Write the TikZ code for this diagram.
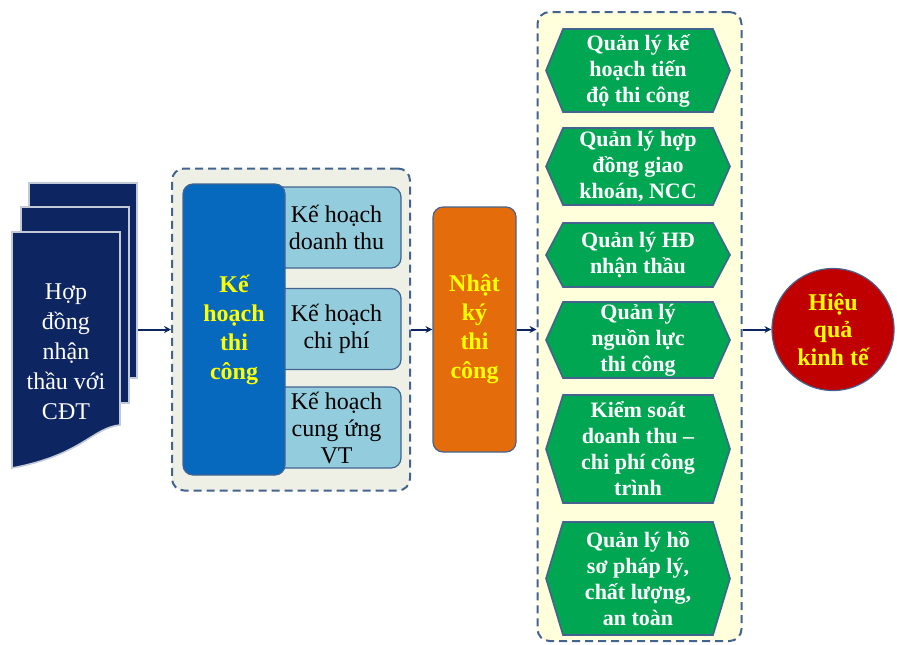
\documentclass[tikz,border=0pt]{standalone}
\usepackage{fontspec}
\setmainfont{Liberation Serif}
\usetikzlibrary{arrows.meta, positioning, calc}
\definecolor{cnavy}{HTML}{0D2561}
\definecolor{cframe}{HTML}{45638F}
\definecolor{cgreybg}{HTML}{EEF0E6}
\definecolor{ccream}{HTML}{FFFFDC}
\definecolor{cblue}{HTML}{0669BE}
\definecolor{clight}{HTML}{93CDDD}
\definecolor{corange}{HTML}{E46C0A}
\definecolor{cgreen}{HTML}{00A651}
\definecolor{cred}{HTML}{C00000}
\definecolor{cyellow}{HTML}{FFFF00}
\tikzset{
  every picture/.style={x=0.5pt, y=-0.5pt, line width=0.6pt},
  paper/.style={fill=cnavy, draw=white!75!cnavy, line width=0.8pt},
  group/.style={draw=cframe, fill=#1, dash pattern=on 4pt off 2.5pt, line width=1pt, rounded corners=6pt},
  group/.default=cgreybg,
  mainbox/.style={draw=cframe, rounded corners=5pt, align=center, inner sep=0pt, text=cyellow, font=\fontsize{12}{14.5}\selectfont\bfseries},
  plan/.style={draw=cframe, fill=clight, rounded corners=5pt, align=center, inner sep=0pt, minimum width=64.5pt, minimum height=40.5pt, font=\fontsize{12}{13.5}\selectfont},
  hexa/.style={draw=cframe, fill=cgreen, line width=0.8pt},
  hextext/.style={align=center, inner sep=0pt, text=white, font=\fontsize{11}{13}\selectfont\bfseries},
  arrow/.style={-{Stealth[length=3.5pt, width=3.5pt]}, draw=cnavy, line width=1pt},
}

\begin{document}
\begin{tikzpicture}
  \useasboundingbox (0,0) rectangle (897,644);
  \foreach \dx/\dy/\h in {17/-49/195, 9/-25/196}
    \draw[paper] (12+\dx,232+\dy) rectangle ++(108,\h);
  \draw[paper] (12,232) -- (120,232) -- (120,425) .. controls (92,428) and (82,455) .. (12,468) -- cycle;
  \node[align=center, text=white, font=\fontsize{12}{15}\selectfont] (doc) at (66,352) {Hợp\\đồng\\nhận\\thầu với\\CĐT};
  \coordinate (docout) at (138,329.5);

  \node[group, minimum width=119pt, minimum height=161pt] (grp1) at (291,329.5) {};
  \node[plan] (p1) at (336.5,227.5) {Kế hoạch\\doanh thu};
  \node[plan] (p2) at (336.5,329) {Kế hoạch\\chi phí};
  \node[plan] (p3) at (336.5,427.5) {Kế hoạch\\cung ứng\\VT};
  \node[mainbox, fill=cblue, minimum width=51pt, minimum height=145.5pt] (khtc) at (234,329.5) {Kế\\hoạch\\thi\\công};

  \node[mainbox, fill=corange, minimum width=41.5pt, minimum height=122.5pt] (nk) at (474.5,329.5) {Nhật\\ký\\thi\\công};

  \node[group=ccream, minimum width=102pt, minimum height=314.5pt] (grp2) at (639.5,326.5) {};
  \foreach \n/\yc/\hh/\t in {q1/70.5/83/{Quản lý kế\\hoạch tiến\\độ thi công},
      q2/166.5/77/{Quản lý hợp\\đồng giao\\khoán, NCC},
      q3/255/64/{Quản lý HĐ\\nhận thầu},
      q4/340/76/{Quản lý\\nguồn lực\\thi công},
      q5/449/108/{Kiểm soát\\doanh thu –\\chi phí công\\trình},
      q6/578.5/113/{Quản lý hồ\\sơ pháp lý,\\chất lượng,\\an toàn}} {
    \draw[hexa] (546,\yc) -- (563,\yc-\hh/2) -- (713,\yc-\hh/2) -- (730,\yc) -- (713,\yc+\hh/2) -- (563,\yc+\hh/2) -- cycle;
    \node[hextext] (\n) at (638,\yc) {\t};
  }

  \node[circle, draw=cframe, fill=cred, minimum size=61pt, inner sep=0pt, align=center, text=cyellow, font=\fontsize{12}{13.75}\selectfont\bfseries] (hq) at (833,329.5) {Hiệu\\quả\\kinh tế};

  \draw[arrow] (docout) -- (grp1.west);
  \draw[arrow] (grp1.east) -- (nk.west);
  \draw[arrow] (nk.east) -- (nk.east -| grp2.west);
  \draw[arrow] (nk.east -| grp2.east) -- (hq.west);
\end{tikzpicture}
\end{document}
